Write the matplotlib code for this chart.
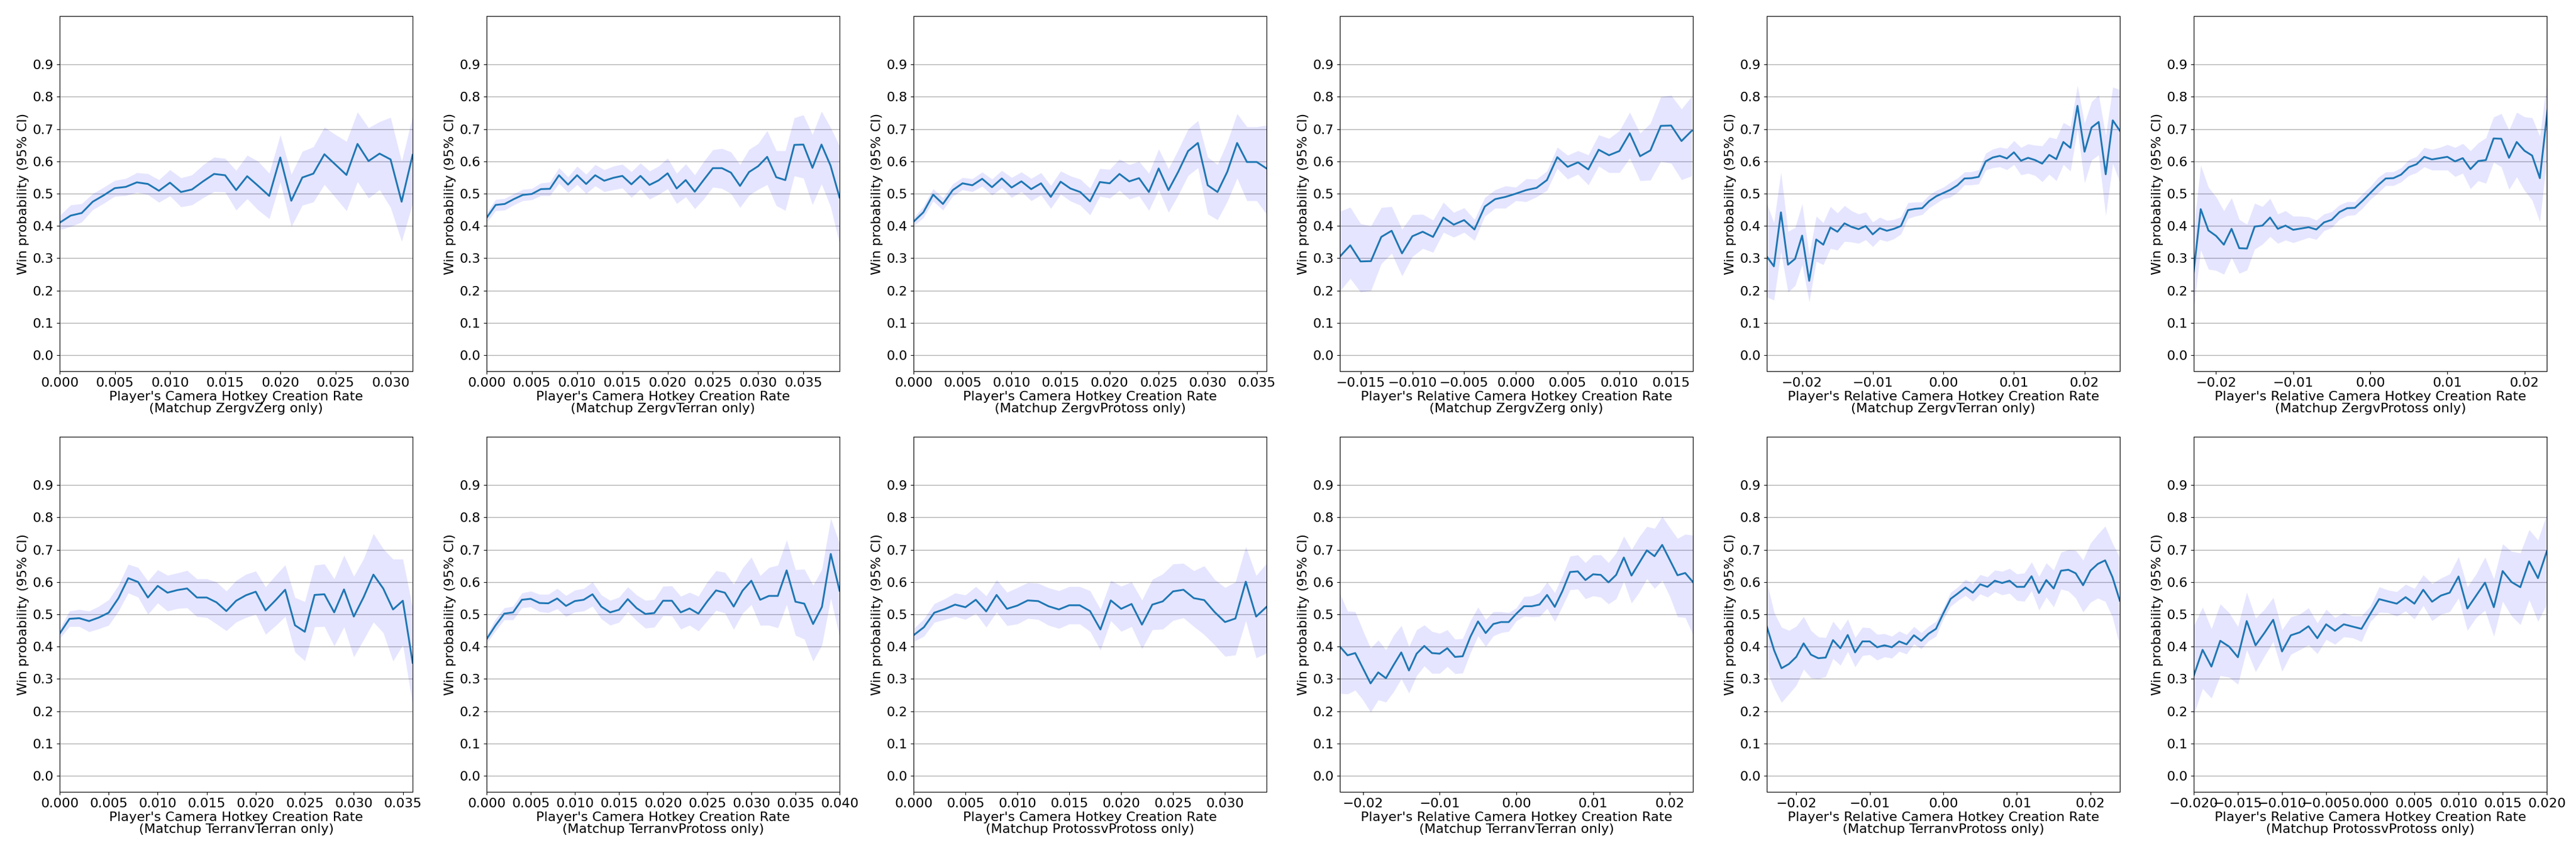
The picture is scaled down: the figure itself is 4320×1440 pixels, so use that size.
import numpy as np
import matplotlib
matplotlib.use("Agg")
import matplotlib.pyplot as plt

matchups = ["ZergvZerg", "ZergvTerran", "ZergvProtoss", "ZergvZerg", "ZergvTerran", "ZergvProtoss",
            "TerranvTerran", "TerranvProtoss", "ProtossvProtoss", "TerranvTerran", "TerranvProtoss", "ProtossvProtoss"]
relative = [False, False, False, True, True, True, False, False, False, True, True, True]
x_start = [0.0, 0.0, 0.0, -0.017, -0.025, -0.023, 0.0, 0.0, 0.0, -0.023, -0.024, -0.020]
x_lims = [(0, 0.032), (0, 0.039), (0, 0.036), (-0.017, 0.0171), (-0.025, 0.025), (-0.0229, 0.0229),
          (0, 0.036), (0, 0.040), (0, 0.034), (-0.023, 0.023), (-0.024, 0.024), (-0.020, 0.020)]

means = [
 [0.41,0.432,0.44,0.475,0.495,0.517,0.521,0.535,0.53,0.509,0.534,0.505,0.513,0.538,0.561,0.557,0.511,0.554,0.524,0.493,0.612,0.478,0.55,0.562,0.622,0.59,0.558,0.654,0.601,0.624,0.606,0.475,0.62],
 [0.425,0.465,0.468,0.483,0.496,0.499,0.514,0.515,0.557,0.528,0.557,0.53,0.557,0.54,0.549,0.555,0.529,0.555,0.527,0.541,0.563,0.516,0.542,0.506,0.543,0.579,0.579,0.565,0.524,0.567,0.585,0.614,0.551,0.542,0.651,0.652,0.58,0.652,0.587,0.488],
 [0.413,0.442,0.497,0.468,0.511,0.532,0.526,0.546,0.52,0.547,0.519,0.538,0.514,0.532,0.49,0.537,0.516,0.505,0.476,0.536,0.532,0.561,0.538,0.548,0.505,0.578,0.511,0.568,0.632,0.657,0.526,0.505,0.568,0.657,0.598,0.598,0.578],
 [0.305,0.34,0.29,0.291,0.366,0.385,0.315,0.368,0.382,0.366,0.426,0.404,0.418,0.389,0.46,0.483,0.49,0.5,0.511,0.518,0.542,0.613,0.583,0.597,0.575,0.636,0.619,0.632,0.687,0.616,0.634,0.71,0.711,0.663,0.695],
 [0.305,0.275,0.442,0.28,0.298,0.37,0.23,0.358,0.342,0.395,0.382,0.408,0.397,0.39,0.4,0.374,0.393,0.385,0.391,0.4,0.449,0.453,0.455,0.477,0.492,0.502,0.512,0.526,0.547,0.548,0.552,0.6,0.612,0.617,0.609,0.628,0.602,0.611,0.604,0.593,0.62,0.607,0.66,0.642,0.772,0.63,0.705,0.722,0.56,0.727,0.695],
 [0.24,0.452,0.386,0.369,0.342,0.391,0.331,0.33,0.398,0.401,0.426,0.391,0.401,0.388,0.392,0.396,0.389,0.411,0.419,0.443,0.455,0.456,0.478,0.502,0.526,0.547,0.548,0.559,0.582,0.591,0.614,0.606,0.61,0.614,0.6,0.61,0.576,0.601,0.604,0.671,0.67,0.611,0.66,0.633,0.618,0.548,0.76],
 [0.44,0.486,0.488,0.479,0.49,0.505,0.55,0.612,0.6,0.552,0.588,0.567,0.575,0.58,0.552,0.552,0.537,0.51,0.542,0.559,0.57,0.512,0.543,0.576,0.466,0.446,0.56,0.562,0.506,0.577,0.493,0.553,0.623,0.58,0.515,0.542,0.35],
 [0.423,0.465,0.502,0.506,0.545,0.548,0.535,0.534,0.549,0.526,0.541,0.545,0.562,0.524,0.506,0.514,0.547,0.519,0.501,0.504,0.542,0.542,0.506,0.518,0.502,0.54,0.574,0.567,0.524,0.573,0.604,0.545,0.557,0.557,0.636,0.539,0.533,0.47,0.523,0.687,0.573],
 [0.435,0.46,0.505,0.516,0.53,0.522,0.545,0.509,0.56,0.517,0.527,0.543,0.541,0.525,0.515,0.528,0.528,0.51,0.453,0.543,0.517,0.532,0.468,0.53,0.54,0.571,0.576,0.55,0.544,0.507,0.476,0.487,0.601,0.493,0.523],
 [0.4,0.373,0.38,0.333,0.286,0.32,0.302,0.343,0.382,0.326,0.378,0.402,0.38,0.378,0.395,0.368,0.37,0.43,0.478,0.442,0.47,0.476,0.476,0.502,0.525,0.525,0.53,0.56,0.523,0.572,0.631,0.633,0.606,0.624,0.622,0.599,0.622,0.676,0.62,0.659,0.698,0.68,0.715,0.668,0.621,0.628,0.6],
 [0.462,0.388,0.333,0.346,0.368,0.41,0.375,0.364,0.366,0.42,0.395,0.436,0.382,0.416,0.416,0.398,0.404,0.398,0.416,0.407,0.435,0.418,0.44,0.455,0.503,0.548,0.565,0.583,0.567,0.593,0.585,0.604,0.597,0.604,0.585,0.585,0.618,0.566,0.606,0.58,0.635,0.638,0.627,0.59,0.635,0.656,0.667,0.615,0.542],
 [0.31,0.39,0.338,0.418,0.4,0.367,0.479,0.404,0.442,0.483,0.385,0.435,0.444,0.463,0.426,0.469,0.449,0.469,0.462,0.455,0.501,0.547,0.54,0.533,0.553,0.533,0.576,0.539,0.558,0.567,0.617,0.518,0.558,0.598,0.522,0.634,0.6,0.584,0.664,0.612,0.695],
]

uppers = [
 [0.432,0.465,0.469,0.5,0.52,0.541,0.547,0.565,0.562,0.543,0.574,0.549,0.558,0.589,0.613,0.609,0.572,0.619,0.6,0.563,0.682,0.56,0.631,0.645,0.706,0.683,0.662,0.753,0.704,0.723,0.736,0.6,0.74],
 [0.44,0.482,0.485,0.5,0.513,0.516,0.533,0.536,0.58,0.552,0.585,0.56,0.59,0.574,0.585,0.591,0.568,0.595,0.57,0.585,0.61,0.563,0.592,0.558,0.6,0.636,0.64,0.629,0.59,0.637,0.655,0.695,0.633,0.633,0.735,0.744,0.683,0.755,0.705,0.648],
 [0.425,0.46,0.515,0.487,0.53,0.55,0.546,0.567,0.545,0.572,0.55,0.567,0.547,0.565,0.525,0.57,0.555,0.545,0.517,0.578,0.575,0.607,0.59,0.6,0.563,0.638,0.577,0.636,0.7,0.726,0.613,0.59,0.66,0.748,0.707,0.707,0.712],
 [0.445,0.458,0.407,0.4,0.457,0.46,0.39,0.435,0.436,0.418,0.473,0.442,0.456,0.42,0.488,0.512,0.524,0.52,0.546,0.545,0.57,0.644,0.619,0.633,0.62,0.682,0.671,0.695,0.752,0.687,0.718,0.8,0.805,0.762,0.802],
 [0.47,0.41,0.567,0.383,0.395,0.468,0.31,0.43,0.41,0.46,0.44,0.463,0.447,0.437,0.443,0.412,0.427,0.417,0.42,0.428,0.472,0.474,0.474,0.496,0.51,0.52,0.535,0.548,0.567,0.568,0.574,0.625,0.638,0.644,0.64,0.664,0.643,0.654,0.65,0.648,0.675,0.67,0.72,0.708,0.835,0.718,0.785,0.806,0.68,0.83,0.822],
 [0.37,0.588,0.52,0.49,0.447,0.487,0.42,0.405,0.47,0.46,0.485,0.437,0.447,0.43,0.43,0.428,0.418,0.437,0.444,0.465,0.475,0.475,0.5,0.522,0.55,0.567,0.568,0.58,0.605,0.615,0.643,0.637,0.643,0.652,0.643,0.655,0.633,0.657,0.673,0.737,0.748,0.697,0.752,0.738,0.735,0.678,0.865],
 [0.455,0.51,0.515,0.51,0.525,0.545,0.59,0.655,0.645,0.603,0.638,0.621,0.628,0.636,0.61,0.61,0.6,0.572,0.605,0.624,0.634,0.585,0.62,0.653,0.552,0.539,0.652,0.656,0.61,0.683,0.618,0.672,0.75,0.703,0.671,0.671,0.52],
 [0.435,0.485,0.52,0.525,0.566,0.572,0.562,0.562,0.58,0.558,0.575,0.58,0.6,0.56,0.543,0.553,0.585,0.56,0.543,0.546,0.587,0.588,0.556,0.568,0.556,0.6,0.635,0.63,0.593,0.643,0.677,0.62,0.645,0.652,0.73,0.638,0.64,0.59,0.64,0.797,0.72],
 [0.455,0.486,0.533,0.548,0.566,0.56,0.586,0.557,0.607,0.568,0.583,0.598,0.596,0.582,0.573,0.586,0.586,0.573,0.516,0.605,0.587,0.6,0.544,0.608,0.625,0.656,0.658,0.635,0.65,0.608,0.583,0.6,0.71,0.62,0.658],
 [0.565,0.51,0.508,0.45,0.395,0.42,0.39,0.435,0.465,0.4,0.452,0.467,0.447,0.441,0.452,0.423,0.425,0.48,0.522,0.484,0.508,0.508,0.505,0.52,0.555,0.557,0.567,0.6,0.567,0.62,0.68,0.684,0.66,0.684,0.684,0.66,0.69,0.742,0.7,0.74,0.772,0.766,0.803,0.768,0.735,0.748,0.745],
 [0.6,0.505,0.46,0.45,0.463,0.493,0.45,0.43,0.428,0.478,0.45,0.485,0.428,0.46,0.458,0.438,0.44,0.432,0.448,0.437,0.462,0.443,0.463,0.478,0.52,0.568,0.585,0.608,0.595,0.623,0.616,0.637,0.633,0.642,0.625,0.628,0.662,0.617,0.659,0.637,0.692,0.7,0.698,0.668,0.72,0.748,0.773,0.72,0.677],
 [0.465,0.522,0.455,0.532,0.505,0.462,0.568,0.488,0.515,0.552,0.452,0.492,0.5,0.52,0.473,0.515,0.49,0.505,0.495,0.495,0.525,0.585,0.575,0.57,0.593,0.58,0.622,0.595,0.612,0.625,0.678,0.585,0.625,0.677,0.61,0.718,0.695,0.69,0.762,0.73,0.81],
]

lowers = [
 [0.388,0.398,0.412,0.45,0.47,0.492,0.494,0.504,0.497,0.473,0.493,0.459,0.465,0.487,0.506,0.505,0.449,0.484,0.449,0.422,0.536,0.398,0.464,0.474,0.528,0.488,0.447,0.537,0.486,0.512,0.457,0.352,0.47],
 [0.41,0.447,0.449,0.465,0.478,0.481,0.494,0.494,0.532,0.503,0.528,0.5,0.524,0.506,0.512,0.517,0.488,0.514,0.483,0.497,0.515,0.469,0.49,0.453,0.484,0.52,0.516,0.5,0.457,0.495,0.513,0.528,0.463,0.448,0.555,0.548,0.466,0.53,0.46,0.345],
 [0.40,0.425,0.477,0.449,0.492,0.512,0.506,0.523,0.495,0.518,0.488,0.506,0.478,0.496,0.454,0.498,0.477,0.464,0.434,0.492,0.486,0.51,0.483,0.493,0.448,0.512,0.442,0.496,0.556,0.58,0.437,0.419,0.476,0.548,0.478,0.478,0.436],
 [0.198,0.237,0.195,0.2,0.283,0.315,0.245,0.305,0.33,0.318,0.38,0.365,0.38,0.355,0.43,0.455,0.455,0.478,0.475,0.49,0.51,0.578,0.545,0.56,0.527,0.585,0.565,0.565,0.61,0.54,0.542,0.6,0.594,0.543,0.555],
 [0.18,0.17,0.32,0.195,0.215,0.28,0.165,0.29,0.28,0.33,0.325,0.352,0.35,0.346,0.357,0.336,0.358,0.352,0.36,0.375,0.423,0.43,0.435,0.456,0.47,0.484,0.489,0.504,0.527,0.527,0.53,0.573,0.58,0.583,0.574,0.59,0.558,0.563,0.556,0.537,0.56,0.54,0.59,0.57,0.7,0.533,0.604,0.62,0.432,0.593,0.535],
 [0.13,0.325,0.266,0.262,0.25,0.302,0.253,0.263,0.328,0.343,0.367,0.346,0.356,0.348,0.356,0.364,0.358,0.385,0.395,0.42,0.432,0.434,0.455,0.482,0.502,0.525,0.525,0.536,0.556,0.565,0.583,0.573,0.573,0.573,0.553,0.563,0.515,0.54,0.532,0.597,0.583,0.513,0.552,0.51,0.48,0.413,0.63],
 [0.425,0.462,0.462,0.446,0.455,0.466,0.51,0.566,0.553,0.5,0.535,0.51,0.518,0.52,0.493,0.49,0.47,0.449,0.476,0.49,0.5,0.438,0.464,0.493,0.383,0.356,0.461,0.462,0.402,0.461,0.368,0.421,0.476,0.443,0.355,0.405,0.22],
 [0.41,0.448,0.483,0.483,0.52,0.523,0.508,0.505,0.517,0.493,0.507,0.51,0.525,0.486,0.466,0.475,0.508,0.48,0.457,0.46,0.496,0.495,0.454,0.466,0.448,0.48,0.512,0.504,0.453,0.503,0.53,0.466,0.466,0.458,0.53,0.435,0.423,0.355,0.405,0.55,0.43],
 [0.415,0.432,0.475,0.484,0.493,0.484,0.503,0.46,0.507,0.465,0.47,0.487,0.484,0.466,0.456,0.47,0.47,0.447,0.389,0.48,0.447,0.462,0.393,0.452,0.454,0.481,0.489,0.462,0.437,0.405,0.37,0.374,0.48,0.365,0.38],
 [0.255,0.253,0.265,0.235,0.197,0.235,0.228,0.26,0.3,0.256,0.31,0.34,0.317,0.317,0.338,0.316,0.318,0.38,0.433,0.4,0.433,0.443,0.447,0.48,0.494,0.492,0.493,0.518,0.478,0.525,0.576,0.578,0.548,0.557,0.553,0.532,0.548,0.602,0.535,0.568,0.61,0.58,0.605,0.555,0.492,0.49,0.437],
 [0.325,0.27,0.227,0.253,0.28,0.33,0.303,0.3,0.307,0.363,0.342,0.385,0.337,0.372,0.375,0.358,0.368,0.364,0.385,0.377,0.408,0.393,0.418,0.432,0.485,0.525,0.543,0.558,0.54,0.563,0.553,0.57,0.56,0.565,0.543,0.54,0.573,0.513,0.553,0.523,0.578,0.572,0.55,0.507,0.537,0.55,0.54,0.492,0.4],
 [0.19,0.27,0.24,0.31,0.305,0.283,0.39,0.322,0.37,0.415,0.323,0.376,0.39,0.405,0.378,0.422,0.407,0.43,0.427,0.415,0.477,0.506,0.505,0.494,0.51,0.485,0.527,0.48,0.5,0.508,0.55,0.45,0.49,0.512,0.432,0.54,0.495,0.468,0.545,0.478,0.532],
]

y_ticks = [0.0, 0.1, 0.2, 0.3, 0.4, 0.5, 0.6, 0.7, 0.8, 0.9]

plt.rcParams['font.family'] = ['DejaVu Sans']
fig = plt.figure(figsize=(43.2, 14.4), dpi=100)
W, H = 4320, 1440
lefts = [100, 816, 1532, 2247, 2963, 3679]
tops = [27, 733]
for i in range(12):
    r, c = divmod(i, 6)
    ax = fig.add_axes([lefts[c] / W, 1 - (tops[r] + 596) / H, 592 / W, 596 / H])
    m = np.array(means[i]); u = np.array(uppers[i]); l = np.array(lowers[i])
    n = min(len(m), len(u), len(l))
    x = x_start[i] + 0.001 * np.arange(n)
    ax.fill_between(x, l[:n], u[:n], color='blue', alpha=0.1, linewidth=0)
    ax.plot(x, m[:n], color='#1f77b4', lw=2.2)
    ax.set_xlim(*x_lims[i])
    ax.set_ylim(-0.05, 1.05)
    ax.set_yticks(y_ticks)
    ax.yaxis.grid(True, color='#b0b0b0', lw=1.0)
    ax.set_axisbelow(True)
    ax.tick_params(labelsize=16)
    ax.set_ylabel("Win probability (95% CI)", fontsize=16)
    name = "Player's Relative Camera Hotkey Creation Rate" if relative[i] else "Player's Camera Hotkey Creation Rate"
    ax.set_xlabel(f"{name}\n(Matchup {matchups[i]} only)", fontsize=16, linespacing=1.0, labelpad=2)
fig.savefig("out.png", dpi=100)
